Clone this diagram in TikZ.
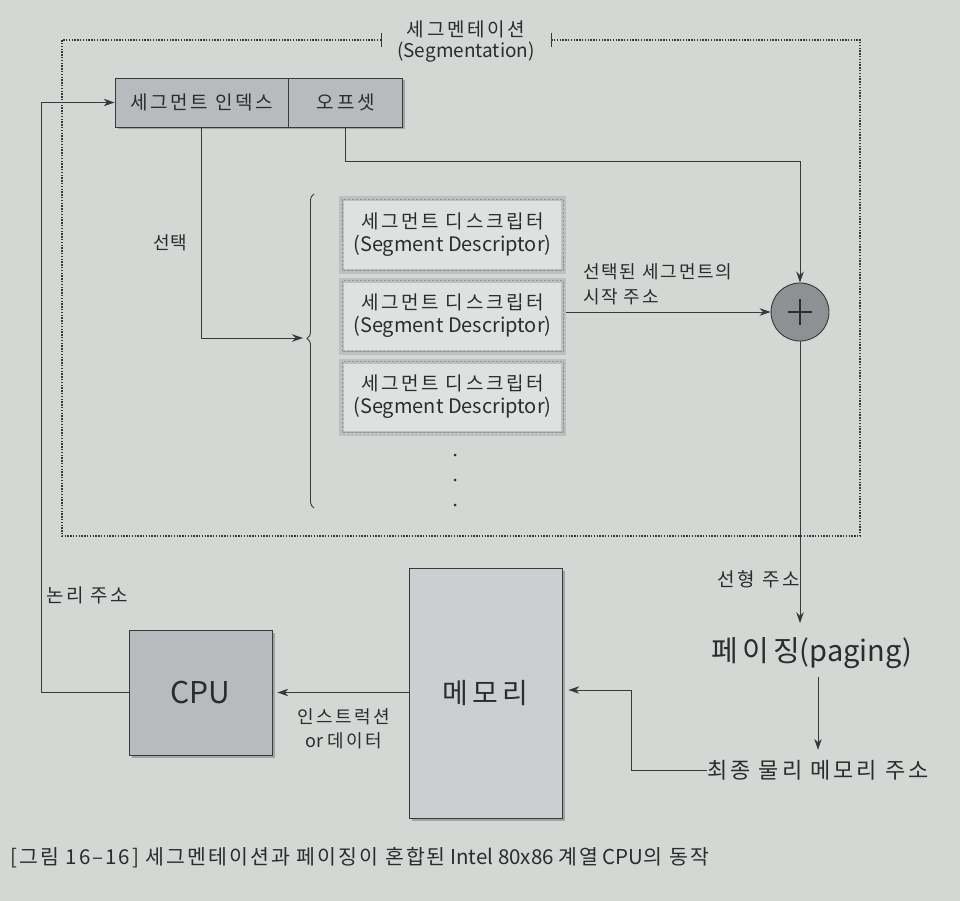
\documentclass[tikz,border=0pt]{standalone}
\usepackage{fontspec}
\setmainfont{Noto Sans CJK KR}
\newfontfamily\hanwide[LetterSpace=14]{Noto Sans CJK KR}
\newfontfamily\hannarrow[LetterSpace=10]{Noto Sans CJK KR}
\usepackage{xcolor}
\usepackage{tikz}
\usetikzlibrary{calc}
\usetikzlibrary{positioning}
\usetikzlibrary{shadows}
\usetikzlibrary{arrows.meta}
\usetikzlibrary{decorations.pathreplacing}
\definecolor{page-gray}{RGB}{213, 215, 213}
\definecolor{line-gray}{RGB}{55, 57, 58}
\definecolor{text-gray}{RGB}{42, 44, 45}
\definecolor{box-gray}{RGB}{184, 187, 189}
\definecolor{mem-gray}{RGB}{204, 207, 209}
\definecolor{desc-band}{RGB}{189, 192, 193}
\definecolor{desc-fill}{RGB}{223, 225, 225}
\definecolor{plus-gray}{RGB}{142, 145, 147}

\tikzset{
  flow/.style={line-gray, line width=1pt, -{Stealth[length=11pt, width=7.5pt]}},
  graybox/.style={draw=line-gray, line width=0.8pt, fill=box-gray, text=text-gray,
    drop shadow={shadow xshift=2.5pt, shadow yshift=-2.5pt, fill=black!55, opacity=0.5}},
  descbox/.style={draw=desc-band, line width=5pt, fill=desc-fill, text=text-gray,
    minimum width=222pt, minimum height=72pt, align=center,
    font=\fontsize{19pt}{23pt}\selectfont},
  lbl/.style={text=text-gray, font=\fontsize{19pt}{24pt}\selectfont\hanwide, inner sep=0pt},
}

\begin{document}
\begin{tikzpicture}[x=1pt, y=-1pt]
  \fill[page-gray] (0, 0) rectangle (960, 901);
  \useasboundingbox (0, 0) rectangle (960, 901);

  % segmentation frame
  \coordinate (seg-l) at (381, 40);
  \coordinate (seg-r) at (551, 40);
  \coordinate (seg-sw) at (62, 536);
  \coordinate (seg-se) at (860, 536);
  \draw[line-gray, line width=1.6pt, dash pattern=on 1.4pt off 1.4pt]
    (seg-l) -| (seg-sw) -- (seg-se) |- (seg-r);
  \draw[line-gray, line width=1pt] ($(seg-l) + (0, -7)$) -- ($(seg-l) + (0, 7)$);
  \draw[line-gray, line width=1pt] ($(seg-r) + (0, -7)$) -- ($(seg-r) + (0, 7)$);
  \node[lbl, align=center, font=\fontsize{19pt}{21pt}\selectfont] (title) at (466, 42)
    {{\hanwide 세그멘테이션}\\(Segmentation)};

  % segment index / offset
  \node[graybox, minimum width=173pt, minimum height=49pt,
    font=\fontsize{19pt}{22pt}\selectfont\hanwide] (idx) at (201.5, 102.5) {세그먼트 인덱스};
  \node[graybox, minimum width=114pt, minimum height=49pt, right=0pt of idx,
    font=\fontsize{19pt}{22pt}\selectfont\hanwide] (off) {오프셋};

  % descriptor table
  \foreach \i/\y in {1/235, 2/316, 3/397} {
    \node[descbox] (desc\i) at (452.5, \y)
      {{\hanwide 세그먼트 디스크립터}\\{\fontsize{20pt}{23pt}\selectfont (Segment Descriptor)}};
    \draw[line-gray!55, line width=0.8pt, dash pattern=on 2.5pt off 1.5pt]
      ($(desc\i.north west) + (3, 3)$) rectangle ($(desc\i.south east) + (-3, -3)$);
  }
  \foreach \y in {455, 480, 505}
    \fill[text-gray] (455, \y) circle[radius=1.5pt];

  \coordinate (brace-top) at (314, 194);
  \coordinate (brace-bot) at (314, 508);
  \coordinate (brace-tip) at (303, 338);
  \draw[line-gray, line width=0.9pt, decorate,
    decoration={brace, amplitude=7pt, aspect=0.54}] (brace-bot) -- (brace-top);

  \node[lbl, font=\fontsize{18pt}{24pt}\selectfont] (select) at (170, 243) {선택};
  \draw[flow] (idx.south) |- (brace-tip);

  % adder
  \node[circle, draw=line-gray, line width=0.9pt, fill=plus-gray, minimum size=58pt]
    (plus) at (800, 312) {};
  \draw[text-gray, line width=1.3pt] ($(plus.center) + (-12, 0)$) -- ($(plus.center) + (12, 0)$);
  \draw[text-gray, line width=1.3pt] ($(plus.center) + (0, -13)$) -- ($(plus.center) + (0, 13)$);

  \coordinate (off-turn) at (800, 162);
  \draw[flow] (off.south) |- (off-turn) -- (plus.north);
  \draw[flow] (desc2.east |- plus.west) -- (plus.west);
  \node[lbl, anchor=west, align=left, font=\fontsize{18pt}{25pt}\selectfont\hannarrow]
    (base) at (583, 284) {선택된 세그먼트의\\시작 주소};

  % paging
  \node[text=text-gray, font=\fontsize{29pt}{30pt}\selectfont, inner sep=0pt]
    (paging) at (812, 653) {{\hanwide 페이징}(paging)};
  \node[text=text-gray, font=\fontsize{22pt}{24pt}\selectfont\hanwide, inner sep=0pt]
    (final) at (818, 770) {최종 물리 메모리 주소};
  \draw[flow, shorten >=14pt] (plus.south) -- (plus.south |- paging.north);
  \node[lbl, anchor=east] (linear) at (800, 579) {선형 주소};
  \draw[flow, shorten <=8pt, shorten >=10pt] (paging.south -| final.north) -- (final.north);

  % cpu and memory
  \node[graybox, minimum width=143pt, minimum height=125pt,
    font=\fontsize{30pt}{30pt}\selectfont] (cpu) at (200.5, 692.5) {CPU};
  \node[graybox, fill=mem-gray, minimum width=153pt, minimum height=250pt,
    font=\fontsize{28pt}{30pt}\selectfont\hanwide] (mem) at (485.5, 693) {메모리};

  \coordinate (mem-turn) at (631, 690);
  \draw[flow, shorten >=6pt] (final.west) -| (mem-turn) -- (mem.east |- mem-turn);
  \draw[flow, shorten >=5pt] (mem.west |- cpu.east) -- (cpu.east);
  \node[lbl, align=center, font=\fontsize{18pt}{24pt}\selectfont]
    (fetch) at (344, 729) {{\hanwide 인스트럭션}\\or {\hanwide 데이터}};

  \coordinate (logic-turn) at (41, 692.5);
  \draw[flow] (cpu.west) -- (logic-turn) |- (idx.west);
  \node[lbl, anchor=west] (logic) at (46, 595) {논리 주소};

  % caption
  \node[text=text-gray, anchor=west, inner sep=0pt, font=\fontsize{20.5pt}{22pt}\selectfont]
    (caption) at (10, 858) {{\hannarrow [그림 16–16] 세그멘테이션과 페이징이 혼합된} Intel 80x86
    {\hannarrow 계열} CPU{\hannarrow 의 동작}};
\end{tikzpicture}
\end{document}
